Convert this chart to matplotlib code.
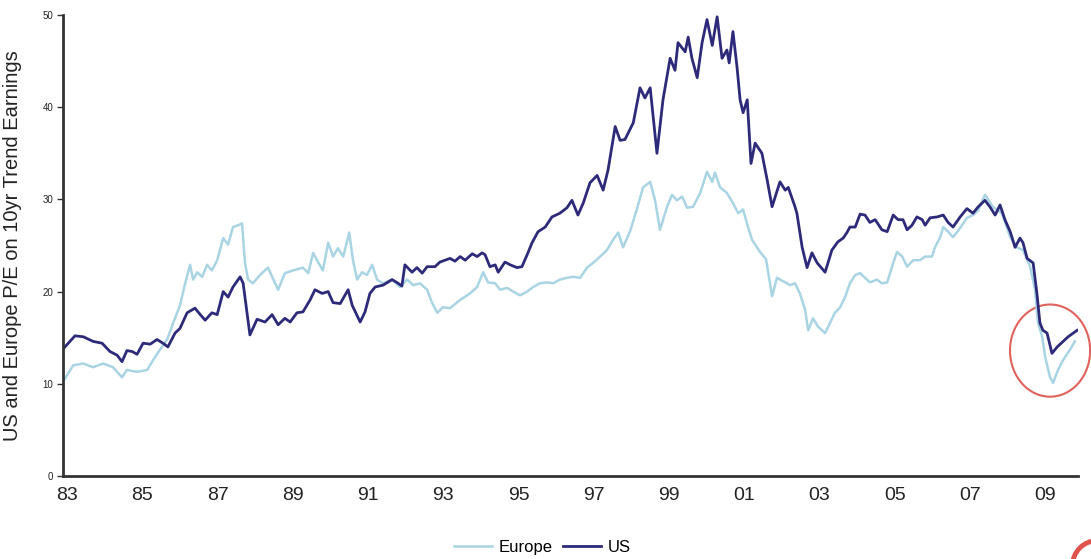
import matplotlib
matplotlib.use("Agg")
import matplotlib.pyplot as plt
from matplotlib.patches import Ellipse

plt.rcParams["font.family"] = ["Liberation Sans", "DejaVu Sans"]

# US cyclically adjusted P/E (price over 10-year trend earnings), dated in decimal years
us_years = [
    1982.92, 1983.21, 1983.43, 1983.69, 1983.93, 1984.14, 1984.33, 1984.46, 1984.59, 1984.73,
    1984.86, 1985.02, 1985.21, 1985.39, 1985.55, 1985.68, 1985.87, 1986.00, 1986.19, 1986.40,
    1986.54, 1986.67, 1986.85, 1986.99, 1987.15, 1987.28, 1987.41, 1987.60, 1987.68, 1987.86,
    1988.05, 1988.26, 1988.45, 1988.61, 1988.79, 1988.93, 1989.11, 1989.27, 1989.46, 1989.59,
    1989.78, 1989.94, 1990.07, 1990.26, 1990.47, 1990.58, 1990.79, 1990.92, 1991.05, 1991.19,
    1991.40, 1991.64, 1991.80, 1991.90, 1991.98, 1992.17, 1992.30, 1992.44, 1992.57, 1992.78,
    1992.91, 1993.18, 1993.31, 1993.45, 1993.58, 1993.77, 1993.90, 1994.03, 1994.11, 1994.24,
    1994.38, 1994.46, 1994.64, 1994.78, 1994.96, 1995.09, 1995.23, 1995.36, 1995.52, 1995.71,
    1995.89, 1996.10, 1996.29, 1996.42, 1996.58, 1996.72, 1996.90, 1997.09, 1997.25, 1997.38,
    1997.57, 1997.70, 1997.83, 1998.05, 1998.23, 1998.36, 1998.50, 1998.68, 1998.84, 1999.03,
    1999.16, 1999.24, 1999.43, 1999.51, 1999.61, 1999.75, 1999.88, 2000.01, 2000.15, 2000.28,
    2000.41, 2000.54, 2000.60, 2000.70, 2000.81, 2000.89, 2000.97, 2001.08, 2001.18, 2001.29,
    2001.47, 2001.61, 2001.74, 2001.95, 2002.09, 2002.17, 2002.35, 2002.40, 2002.54, 2002.67,
    2002.80, 2002.94, 2003.15, 2003.33, 2003.49, 2003.63, 2003.73, 2003.81, 2003.95, 2004.08,
    2004.21, 2004.34, 2004.48, 2004.66, 2004.80, 2004.96, 2005.09, 2005.22, 2005.33, 2005.46,
    2005.59, 2005.73, 2005.81, 2005.94, 2006.13, 2006.29, 2006.42, 2006.55, 2006.74, 2006.92,
    2007.08, 2007.22, 2007.40, 2007.53, 2007.67, 2007.80, 2007.93, 2008.07, 2008.20, 2008.33,
    2008.41, 2008.52, 2008.68, 2008.78, 2008.86, 2008.94, 2009.05, 2009.18, 2009.32, 2009.45,
    2009.61, 2009.85,
]
us_pe = [
    13.9, 15.2, 15.1, 14.6, 14.4, 13.5, 13.1, 12.4, 13.6, 13.5,
    13.2, 14.4, 14.3, 14.8, 14.4, 14.0, 15.5, 16.0, 17.7, 18.2,
    17.5, 16.9, 17.7, 17.5, 20.0, 19.4, 20.5, 21.6, 20.9, 15.3,
    17.0, 16.7, 17.5, 16.4, 17.1, 16.7, 17.7, 17.8, 19.1, 20.2,
    19.8, 20.0, 18.8, 18.7, 20.2, 18.5, 16.7, 17.8, 19.8, 20.5,
    20.7, 21.3, 20.9, 20.6, 22.9, 22.1, 22.6, 22.0, 22.7, 22.7,
    23.2, 23.6, 23.3, 23.8, 23.4, 24.1, 23.8, 24.2, 24.0, 22.7,
    22.9, 22.1, 23.2, 22.9, 22.6, 22.7, 24.0, 25.3, 26.5, 27.0,
    28.1, 28.5, 29.1, 29.9, 28.3, 29.6, 31.8, 32.6, 31.0, 33.2,
    37.9, 36.4, 36.5, 38.3, 42.1, 41.0, 42.1, 35.0, 40.8, 45.3,
    44.0, 47.0, 46.0, 47.6, 45.3, 43.2, 47.0, 49.5, 46.7, 49.8,
    45.3, 46.2, 44.8, 48.2, 44.3, 40.8, 39.4, 40.8, 33.9, 36.1,
    35.0, 32.1, 29.2, 31.9, 31.0, 31.3, 29.2, 28.5, 24.8, 22.6,
    24.2, 23.1, 22.1, 24.5, 25.4, 25.8, 26.4, 27.0, 27.0, 28.4,
    28.3, 27.5, 27.8, 26.7, 26.5, 28.3, 27.8, 27.8, 26.7, 27.2,
    28.1, 27.8, 27.2, 28.0, 28.1, 28.3, 27.5, 27.0, 28.1, 29.0,
    28.5, 29.2, 29.9, 29.2, 28.3, 29.4, 27.8, 26.5, 24.8, 25.8,
    25.3, 23.6, 23.1, 19.8, 16.6, 15.8, 15.5, 13.3, 14.0, 14.5,
    15.1, 15.8,
]

# Europe cyclically adjusted P/E, dated in decimal years
eu_years = [
    1982.92, 1983.16, 1983.43, 1983.69, 1983.96, 1984.22, 1984.46, 1984.59, 1984.86, 1985.13,
    1985.29, 1985.47, 1985.66, 1985.82, 1986.00, 1986.14, 1986.27, 1986.35, 1986.46, 1986.59,
    1986.72, 1986.85, 1986.99, 1987.15, 1987.28, 1987.41, 1987.55, 1987.65, 1987.73, 1987.81,
    1987.94, 1988.13, 1988.34, 1988.61, 1988.79, 1989.01, 1989.27, 1989.41, 1989.54, 1989.67,
    1989.80, 1989.94, 1990.07, 1990.20, 1990.34, 1990.50, 1990.60, 1990.71, 1990.84, 1990.97,
    1991.11, 1991.24, 1991.40, 1991.64, 1991.85, 1992.04, 1992.20, 1992.38, 1992.57, 1992.70,
    1992.84, 1992.99, 1993.18, 1993.45, 1993.71, 1993.90, 1994.06, 1994.19, 1994.38, 1994.51,
    1994.70, 1994.86, 1995.04, 1995.23, 1995.39, 1995.57, 1995.76, 1995.92, 1996.10, 1996.29,
    1996.45, 1996.64, 1996.82, 1996.98, 1997.17, 1997.35, 1997.51, 1997.65, 1997.78, 1997.97,
    1998.15, 1998.31, 1998.50, 1998.63, 1998.76, 1998.95, 1999.08, 1999.21, 1999.35, 1999.48,
    1999.64, 1999.83, 2000.01, 2000.15, 2000.22, 2000.36, 2000.54, 2000.70, 2000.84, 2000.97,
    2001.10, 2001.21, 2001.42, 2001.58, 2001.74, 2001.87, 2001.95, 2002.09, 2002.22, 2002.35,
    2002.48, 2002.62, 2002.70, 2002.83, 2002.96, 2003.15, 2003.28, 2003.41, 2003.55, 2003.68,
    2003.81, 2003.95, 2004.08, 2004.21, 2004.34, 2004.53, 2004.66, 2004.80, 2004.96, 2005.06,
    2005.20, 2005.33, 2005.49, 2005.67, 2005.81, 2005.99, 2006.07, 2006.21, 2006.29, 2006.42,
    2006.55, 2006.74, 2006.92, 2007.08, 2007.22, 2007.40, 2007.61, 2007.85, 2008.07, 2008.25,
    2008.41, 2008.60, 2008.73, 2008.81, 2008.92, 2009.00, 2009.13, 2009.21, 2009.34, 2009.48,
    2009.66, 2009.79,
]
eu_pe = [
    10.4, 12.0, 12.2, 11.8, 12.2, 11.8, 10.7, 11.5, 11.3, 11.5,
    12.6, 13.7, 14.8, 16.6, 18.5, 20.9, 22.9, 21.3, 22.1, 21.6,
    22.9, 22.3, 23.4, 25.8, 25.1, 27.0, 27.2, 27.4, 23.1, 21.3,
    20.9, 21.8, 22.6, 20.2, 22.0, 22.3, 22.6, 22.0, 24.2, 23.2,
    22.3, 25.3, 23.8, 24.7, 23.8, 26.4, 23.4, 21.3, 22.1, 21.8,
    22.9, 21.3, 20.9, 21.3, 20.5, 21.3, 20.7, 20.9, 20.2, 18.8,
    17.7, 18.3, 18.2, 19.1, 19.8, 20.5, 22.1, 21.0, 20.9, 20.2,
    20.4, 20.0, 19.6, 20.0, 20.5, 20.9, 21.0, 20.9, 21.3, 21.5,
    21.6, 21.5, 22.6, 23.1, 23.8, 24.5, 25.6, 26.4, 24.8, 26.6,
    29.0, 31.3, 31.9, 29.9, 26.7, 29.2, 30.5, 29.9, 30.3, 29.1,
    29.2, 30.7, 33.0, 31.9, 32.9, 31.3, 30.7, 29.6, 28.5, 28.9,
    27.0, 25.6, 24.3, 23.5, 19.5, 21.5, 21.3, 21.0, 20.7, 20.9,
    19.8, 18.0, 15.8, 17.1, 16.2, 15.5, 16.6, 17.7, 18.3, 19.4,
    20.9, 21.8, 22.0, 21.5, 21.0, 21.3, 20.9, 21.0, 23.1, 24.3,
    23.8, 22.7, 23.4, 23.4, 23.8, 23.8, 24.8, 25.9, 27.0, 26.5,
    25.9, 26.9, 28.0, 28.3, 28.8, 30.5, 29.2, 28.5, 25.9, 24.8,
    24.5, 22.7, 20.2, 16.6, 15.1, 12.9, 10.7, 10.1, 11.5, 12.6,
    13.7, 14.6,
]

tick_years = list(range(1983, 2010, 2))
tick_labels = [f"{y % 100:02d}" for y in tick_years]
y_ticks = [0, 10, 20, 30, 40, 50]

us_color = "#2d2a7a"
eu_color = "#a9d4e4"

fig = plt.figure(figsize=(10.91, 5.59), dpi=100)
ax = fig.add_axes([0.0577, 0.1485, 0.9303, 0.8247])

ax.plot(eu_years, eu_pe, color=eu_color, lw=1.8, label="Europe", solid_joinstyle="round")
ax.plot(us_years, us_pe, color=us_color, lw=2.0, label="US", solid_joinstyle="round")

ax.set_xlim(1982.89, 2009.87)
ax.set_ylim(0, 50)

ax.set_xticks(tick_years)
ax.set_xticklabels(tick_labels, fontsize=14, color="#222222")
ax.set_yticks(y_ticks)
ax.set_yticklabels([str(v) for v in y_ticks], fontsize=7, color="#222222")
ax.tick_params(axis="x", length=0, pad=8)
ax.tick_params(axis="y", length=4, width=1, pad=3, color="#333333")

for side in ("top", "right"):
    ax.spines[side].set_visible(False)
for side in ("left", "bottom"):
    ax.spines[side].set_linewidth(2.0)
    ax.spines[side].set_color("#333333")

ax.set_ylabel("US and Europe P/E on 10yr Trend Earnings", fontsize=14.5, color="#222222")
ax.yaxis.set_label_coords(-0.04, 0.5)

# highlight the 2009 trough
ax.add_patch(Ellipse((2009.13, 13.6), width=2.13, height=10.0, fill=False,
                     edgecolor="#e0625c", lw=1.5, clip_on=False))

# partial red marker in the lower-right corner of the figure
fig.patches.append(Ellipse((1.006, -0.012), width=0.046, height=0.09, fill=False,
                           edgecolor="#e0524c", lw=3.5, transform=fig.transFigure,
                           figure=fig))

fig.legend(loc="center", bbox_to_anchor=(0.497, 0.02), ncol=2, frameon=False,
           fontsize=12, handlelength=2.3, handletextpad=0.4, columnspacing=0.6)

fig.savefig("out.png", dpi=100, facecolor="white")
